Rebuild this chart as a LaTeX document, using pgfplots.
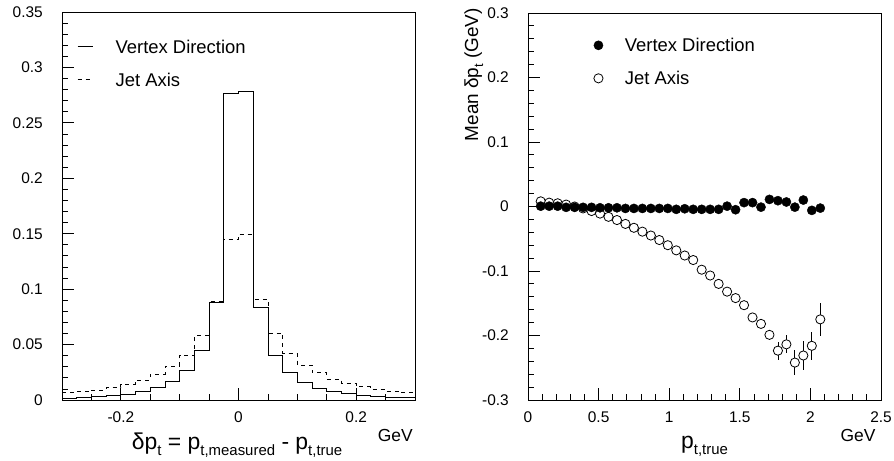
\documentclass[border=0pt]{standalone}
\usepackage{fontspec}
\setmainfont{Liberation Sans}
\usepackage{pgfplots}
\pgfplotsset{compat=1.18}

\newcommand{\fs}[1]{\fontsize{#1}{#1}\selectfont}
\newcommand{\sub}[1]{\raisebox{-6bp}{\fs{15}#1}}
\newcommand{\ysub}[1]{\raisebox{-5bp}{\fs{13}#1}}

\pgfplotsset{
  rootstyle/.style={
    scale only axis, clip=false,
    axis line style={line width=0.8bp},
    tick align=inside, tick pos=left,
    major tick length=12bp, minor tick length=6bp,
    every tick/.style={black, line width=0.8bp},
    tick label style={font=\fs{15.5}},
    yticklabel style={inner sep=0pt, xshift=-19bp},
    xticklabel style={inner sep=0pt, yshift=-12bp},
    legend cell align=left,
    legend style={draw=none, fill=none, inner sep=0pt, row sep=19.8bp,
      nodes={inner sep=0pt, text height=13.2bp, text depth=0bp, font=\fs{18.5}}},
  }
}

\begin{document}
\begin{tikzpicture}
\path[use as bounding box] (0bp,0bp) rectangle (894bp,461bp);

% left: distribution of delta p_t
\begin{axis}[rootstyle,
  at={(62bp,61bp)}, anchor=south west,
  width=353bp, height=388bp,
  xmin=-0.3, xmax=0.3, ymin=0, ymax=0.35,
  xtick={-0.2,0,0.2}, xticklabels={-0.2,0,0.2},
  minor xtick={-0.25,-0.15,-0.1,-0.05,0.05,0.1,0.15,0.25},
  ytick={0,0.05,0.1,0.15,0.2,0.25,0.3,0.35},
  yticklabels={0,0.05,0.1,0.15,0.2,0.25,0.3,0.35},
  minor y tick num=4,
  xlabel={δp\sub{t} = p\sub{t,measured} - p\sub{t,true}},
  xlabel style={at={(axis description cs:0.496,-0.128)}, anchor=base, font=\fs{23}, inner sep=0pt},
  legend style={at={(axis description cs:0.0425,0.928)}, anchor=north west},
  legend image code/.code={\draw[#1] (0bp,0bp) -- (15bp,0bp); \path[draw=none] (0bp,0bp) -- (38bp,0bp);},
]
\addplot[const plot, black, line width=0.8bp] coordinates {
  (-0.300,0.0018) (-0.275,0.0024) (-0.250,0.0030) (-0.225,0.0039)
  (-0.200,0.0054) (-0.175,0.0075) (-0.150,0.0114) (-0.125,0.0165)
  (-0.100,0.0265) (-0.075,0.0445) (-0.050,0.0881) (-0.025,0.2765)
  (0.000,0.2780) (0.025,0.0836) (0.050,0.0406) (0.075,0.0247)
  (0.100,0.0156) (0.125,0.0105) (0.150,0.0075) (0.175,0.0060)
  (0.200,0.0045) (0.225,0.0036) (0.250,0.0027) (0.275,0.0020)
  (0.300,0.0020)};
\addlegendentry{Vertex Direction}
\addplot[const plot, black, line width=0.8bp, dash pattern=on 4bp off 4bp] coordinates {
  (-0.300,0.0066) (-0.275,0.0075) (-0.250,0.0090) (-0.225,0.0114)
  (-0.200,0.0144) (-0.175,0.0180) (-0.150,0.0235) (-0.125,0.0307)
  (-0.100,0.0406) (-0.075,0.0580) (-0.050,0.0890) (-0.025,0.1450)
  (0.000,0.1494) (0.025,0.0910) (0.050,0.0600) (0.075,0.0420)
  (0.100,0.0316) (0.125,0.0247) (0.150,0.0187) (0.175,0.0150)
  (0.200,0.0120) (0.225,0.0096) (0.250,0.0080) (0.275,0.0066)
  (0.300,0.0066)};
\addlegendentry{Jet Axis}
\node[font=\fs{17.5}, anchor=base east, inner sep=0pt] at (axis description cs:0.994,-0.108) {GeV};
\end{axis}

% right: mean delta p_t versus p_t,true
\begin{axis}[rootstyle,
  at={(528bp,61bp)}, anchor=south west,
  width=353bp, height=387bp,
  xmin=0, xmax=2.5, ymin=-0.3, ymax=0.3,
  xtick={0,0.5,1,1.5,2,2.5}, xticklabels={0,0.5,1,1.5,2,2.5},
  minor x tick num=4,
  ytick={-0.3,-0.2,-0.1,0,0.1,0.2,0.3},
  yticklabels={-0.3,-0.2,-0.1,0,0.1,0.2,0.3},
  minor y tick num=4,
  xlabel={p\sub{t,true}},
  xlabel style={at={(axis description cs:0.5,-0.125)}, anchor=base, font=\fs{23}, inner sep=0pt},
  ylabel={Mean δp\ysub{t} (GeV)},
  ylabel style={at={(axis description cs:-0.1416,1.013)}, anchor=base east, font=\fs{19}, inner sep=0pt},
  legend style={at={(axis description cs:0.186,0.934)}, anchor=north west},
  legend image code/.code={\draw[#1] plot coordinates {(4.6bp,0bp)}; \path[draw=none] (0bp,0bp) -- (31bp,0bp);},
]
\addlegendimage{only marks, mark=*, mark size=4.6bp, black}
\addlegendentry{Vertex Direction}
\addlegendimage{only marks, mark=o, mark size=4.6bp, black, mark options={line width=0.8bp, fill=white}}
\addlegendentry{Jet Axis}

\addplot[forget plot, only marks, mark=*, mark size=4.6bp, mark options={fill=white, line width=0.8bp},
  black, line width=0.8bp,
  error bars/.cd, y dir=both, y explicit, error mark=none,
  error bar style={line width=0.8bp}] coordinates {
  (0.09,0.008) (0.15,0.006) (0.21,0.005) (0.27,0.003) (0.33,0.000)
  (0.39,-0.003) (0.45,-0.007) (0.51,-0.011) (0.57,-0.016) (0.63,-0.021)
  (0.69,-0.027) (0.75,-0.033) (0.81,-0.039) (0.87,-0.045) (0.93,-0.052)
  (0.99,-0.060) (1.05,-0.068) (1.11,-0.076) (1.17,-0.083) (1.23,-0.098)
  (1.29,-0.107) (1.35,-0.120) (1.41,-0.132) (1.47,-0.142) (1.53,-0.153)
  (1.59,-0.172) +- (0,0.005) (1.65,-0.182) +- (0,0.006) (1.71,-0.199) +- (0,0.008)
  (1.77,-0.2235) +- (0,0.014) (1.83,-0.2137) +- (0,0.014) (1.89,-0.242) +- (0,0.019)
  (1.95,-0.231) +- (0,0.022) (2.01,-0.216) +- (0,0.022) (2.07,-0.175) +- (0,0.026)};
\addplot[forget plot, only marks, mark=*, mark size=4.6bp, black] coordinates {
  (0.09,0.0005) (0.15,0.0005) (0.21,0.0005) (0.27,-0.0013) (0.33,-0.0013)
  (0.39,-0.0013) (0.45,-0.0013) (0.51,-0.002) (0.57,-0.002) (0.63,-0.002)
  (0.69,-0.003) (0.75,-0.003) (0.81,-0.003) (0.87,-0.003) (0.93,-0.003)
  (0.99,-0.003) (1.05,-0.0044) (1.11,-0.0035) (1.17,-0.0044) (1.23,-0.0044)
  (1.29,-0.0044) (1.35,-0.0044) (1.41,0.0005) (1.47,-0.005) (1.53,0.006)
  (1.59,0.006) (1.65,-0.001) (1.71,0.011) (1.77,0.009) (1.83,0.007)
  (1.89,-0.001) (1.95,0.010) (2.01,-0.006) (2.07,-0.0025)};
\node[font=\fs{17.5}, anchor=base east, inner sep=0pt] at (axis description cs:0.985,-0.108) {GeV};
\end{axis}
\end{tikzpicture}
\end{document}
